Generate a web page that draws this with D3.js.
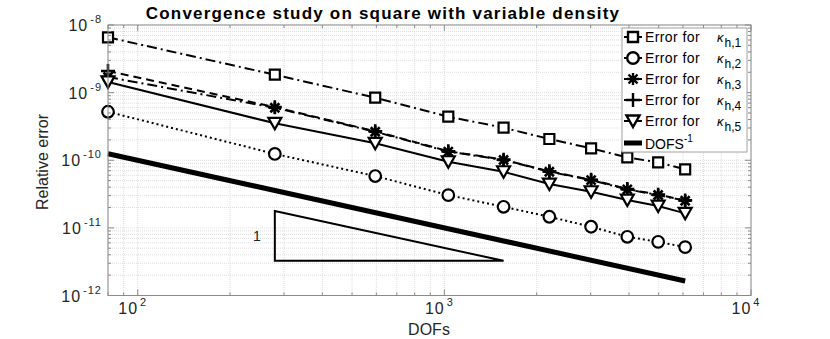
<!DOCTYPE html>
<html>
<head>
<meta charset="utf-8">
<script src="https://cdn.jsdelivr.net/npm/d3@7/dist/d3.min.js"></script>
<style>
  body { margin: 0; background: #fff; }
  text { font-family: "Liberation Sans", Arial, sans-serif; }
</style>
</head>
<body>
<script>
// Data
const dofs = [80, 280, 595, 1030, 1560, 2200, 3010, 3950, 4980, 6100];
const errK1 = [6.58e-9, 1.84e-9, 8.41e-10, 4.41e-10, 3.03e-10, 2.06e-10, 1.5e-10, 1.1e-10, 9.3e-11, 7.33e-11];
const errK2 = [5.21e-10, 1.24e-10, 5.84e-11, 3.05e-11, 2.05e-11, 1.46e-11, 1.04e-11, 7.38e-12, 6.22e-12, 5.19e-12];
const errK3 = [1.7e-9, 5.98e-10, 2.64e-10, 1.34e-10, 1.01e-10, 6.76e-11, 5.09e-11, 3.71e-11, 3.06e-11, 2.52e-11];
const errK4 = [2.09e-9, 6.1e-10, 2.68e-10, 1.36e-10, 1.02e-10, 6.85e-11, 5.15e-11, 3.76e-11, 3.1e-11, 2.55e-11];
const errK5 = [1.44e-9, 3.52e-10, 1.78e-10, 9.5e-11, 6.76e-11, 4.45e-11, 3.42e-11, 2.58e-11, 2.1e-11, 1.64e-11];
const seriesNames = ["1", "2", "3", "4", "5"];
const markerTypes = ["square", "circle", "asterisk", "plus", "triangle"];

// DOFS^-1 reference line (end points) and slope triangle
const refDofs = [80, 6100];
const refErr = [1.25e-10, 1.64e-12];
const triDofs = [280, 1560];
const triErr = [1.77e-11, 3.26e-12];

const xTicks = [1e2, 1e3, 1e4];
const xExp = ["2", "3", "4"];
const yTicks = [1e-12, 1e-11, 1e-10, 1e-9, 1e-8];
const yExp = ["-12", "-11", "-10", "-9", "-8"];

let w = 830;
let h = 339;
let pLeft = 108, pRight = 751, pTop = 25, pBottom = 295.5;

let xScale = d3.scaleLog().domain([80, 1e4]).range([pLeft, pRight]);
let yScale = d3.scaleLog().domain([1e-12, 1e-8]).range([pBottom, pTop]);

let svg = d3.select("body").append("svg").attr("width", w).attr("height", h);

// minor tick values
let xMinor = [];
for (let d = 1e1; d < 1e4; d *= 10)
  for (let k = 1; k < 10; k++) if (d * k >= 80 && d * k <= 1e4) xMinor.push(d * k);
xMinor.push(1e4);
let yMinor = [];
for (let d = 1e-12; d < 1e-8 * 0.99; d *= 10)
  for (let k = 1; k < 10; k++) yMinor.push(d * k);
yMinor.push(1e-8);

const isMajor = (v, list) => list.some((t) => Math.abs(v / t - 1) < 1e-6);

// Grid
let grid = svg.append("g").attr("stroke", "#dedede").attr("stroke-width", 1).attr("stroke-dasharray", "1,1");
grid.selectAll("line.gx").data(xMinor).enter().append("line")
  .attr("x1", (d) => xScale(d)).attr("x2", (d) => xScale(d))
  .attr("y1", pTop).attr("y2", pBottom);
grid.selectAll("line.gy").data(yMinor).enter().append("line")
  .attr("x1", pLeft).attr("x2", pRight)
  .attr("y1", (d) => yScale(d)).attr("y2", (d) => yScale(d));

// Series
let allSeries = [errK1, errK2, errK3, errK4, errK5];
let dashes = ["10,4,2,4", "2,3", "10,4,2,4", "8,5", null];

let line = d3.line().x((d) => xScale(d[0])).y((d) => yScale(d[1]));

function markerPath(type) {
  if (type === "square") return "M-5,-5H5V5H-5Z";
  if (type === "circle") return "M-5.8,0A5.8,5.8 0 1,0 5.8,0A5.8,5.8 0 1,0 -5.8,0Z";
  if (type === "triangle") return "M-6.5,-5.5H6.5L0,6Z";
  if (type === "plus") return "M-7,0H7M0,-7V7";
  return "M-6,0H6M0,-6V6M-4.5,-4.5L4.5,4.5M-4.5,4.5L4.5,-4.5";
}
const openMarker = (t) => t === "plus" || t === "asterisk";

let plot = svg.append("g");

// reference line DOFS^-1
plot.append("path")
  .attr("d", line(refDofs.map((d, i) => [d, refErr[i]])))
  .attr("fill", "none").attr("stroke", "#000").attr("stroke-width", 5);

// slope triangle
let tx0 = xScale(triDofs[0]), tx1 = xScale(triDofs[1]);
let ty0 = yScale(triErr[0]), ty1 = yScale(triErr[1]);
plot.append("path")
  .attr("d", "M" + tx0 + "," + ty0 + "L" + tx0 + "," + ty1 + "L" + tx1 + "," + ty1 + "Z")
  .attr("fill", "none").attr("stroke", "#000").attr("stroke-width", 2);
plot.append("text").text("1")
  .attr("x", tx0 - 18).attr("y", (ty0 + ty1) / 2 + 5)
  .attr("text-anchor", "middle").attr("font-size", "14px").attr("fill", "#222");

allSeries.forEach((vals, s) => {
  let pts = dofs.map((d, i) => [d, vals[i]]);
  plot.append("path")
    .attr("d", line(pts))
    .attr("fill", "none").attr("stroke", "#000").attr("stroke-width", 2)
    .attr("stroke-dasharray", dashes[s]);
  plot.selectAll("path.m" + s).data(pts).enter().append("path")
    .attr("class", "m" + s)
    .attr("d", markerPath(markerTypes[s]))
    .attr("transform", (d) => "translate(" + xScale(d[0]) + "," + yScale(d[1]) + ")")
    .attr("fill", openMarker(markerTypes[s]) ? "none" : "#fff")
    .attr("stroke", "#000")
    .attr("stroke-width", openMarker(markerTypes[s]) ? 2.6 : 2.2);
});

// Axes box and ticks
let axisCol = "#8a8a8a";
svg.append("rect").attr("x", pLeft).attr("y", pTop)
  .attr("width", pRight - pLeft).attr("height", pBottom - pTop)
  .attr("fill", "none").attr("stroke", axisCol).attr("stroke-width", 1);

let ticks = svg.append("g").attr("stroke", axisCol).attr("stroke-width", 1);
xMinor.forEach((d) => {
  let len = isMajor(d, xTicks) ? 6 : 3;
  ticks.append("line").attr("x1", xScale(d)).attr("x2", xScale(d)).attr("y1", pBottom).attr("y2", pBottom - len);
  ticks.append("line").attr("x1", xScale(d)).attr("x2", xScale(d)).attr("y1", pTop).attr("y2", pTop + len);
});
yMinor.forEach((d) => {
  let len = isMajor(d, yTicks) ? 6 : 3;
  ticks.append("line").attr("y1", yScale(d)).attr("y2", yScale(d)).attr("x1", pLeft).attr("x2", pLeft + len);
  ticks.append("line").attr("y1", yScale(d)).attr("y2", yScale(d)).attr("x1", pRight).attr("x2", pRight - len);
});

// Tick labels
let labCol = "#262626";
xTicks.forEach((d, i) => {
  let t = svg.append("text").attr("x", xScale(d) - 5).attr("y", 314)
    .attr("text-anchor", "middle").attr("font-size", "16px").attr("fill", labCol)
    .attr("letter-spacing", "1px");
  t.append("tspan").text("10");
  t.append("tspan").text(xExp[i]).attr("font-size", "11px").attr("dy", -8).attr("dx", 2);
});
yTicks.forEach((d, i) => {
  let t = svg.append("text").attr("x", 102).attr("y", yScale(d) + 6)
    .attr("text-anchor", "end").attr("font-size", "16px").attr("fill", labCol)
    .attr("letter-spacing", "1px");
  t.append("tspan").text("10");
  t.append("tspan").text(yExp[i]).attr("font-size", "11px").attr("dy", -8).attr("dx", 2);
});

// Axis titles
svg.append("text").text("DOFs")
  .attr("x", 429).attr("y", 335).attr("text-anchor", "middle")
  .attr("font-size", "16px").attr("fill", labCol);
svg.append("text").text("Relative error")
  .attr("transform", "translate(48,162) rotate(-90)")
  .attr("text-anchor", "middle").attr("font-size", "16px").attr("fill", labCol);
svg.append("text").text("Convergence study on square with variable density")
  .attr("x", 383).attr("y", 19).attr("text-anchor", "middle")
  .attr("font-size", "17px").attr("font-weight", "bold").attr("letter-spacing", "1.2px")
  .attr("fill", "#000");

// Legend
let lg = svg.append("g");
lg.append("rect").attr("x", 622).attr("y", 28).attr("width", 125).attr("height", 124)
  .attr("fill", "#fff").attr("stroke", "#a0a0a0").attr("stroke-width", 1);
seriesNames.forEach((name, s) => {
  let yy = 37 + s * 21;
  lg.append("line").attr("x1", 624).attr("x2", 642).attr("y1", yy).attr("y2", yy)
    .attr("stroke", "#000").attr("stroke-width", 2);
  lg.append("path").attr("d", markerPath(markerTypes[s]))
    .attr("transform", "translate(633," + yy + ")")
    .attr("fill", openMarker(markerTypes[s]) ? "none" : "#fff")
    .attr("stroke", "#000").attr("stroke-width", 2.4);
  lg.append("text").text("Error for").attr("x", 645).attr("y", yy + 5)
    .attr("font-size", "14px").attr("letter-spacing", "0.4px").attr("fill", "#000");
  let t = lg.append("text").attr("x", 717).attr("y", yy + 5).attr("font-size", "13px").attr("fill", "#000");
  t.append("tspan").text("\u03ba").attr("font-style", "italic");
  t.append("tspan").text("h," + name).attr("font-size", "12px").attr("dy", 5).attr("dx", 1);
});
lg.append("line").attr("x1", 624).attr("x2", 642).attr("y1", 143).attr("y2", 143)
  .attr("stroke", "#000").attr("stroke-width", 5);
let dt = lg.append("text").attr("x", 645).attr("y", 149).attr("font-size", "14px").attr("fill", "#000");
dt.append("tspan").text("DOFS");
dt.append("tspan").text("-1").attr("font-size", "10px").attr("dy", -7);
</script>
</body>
</html>
